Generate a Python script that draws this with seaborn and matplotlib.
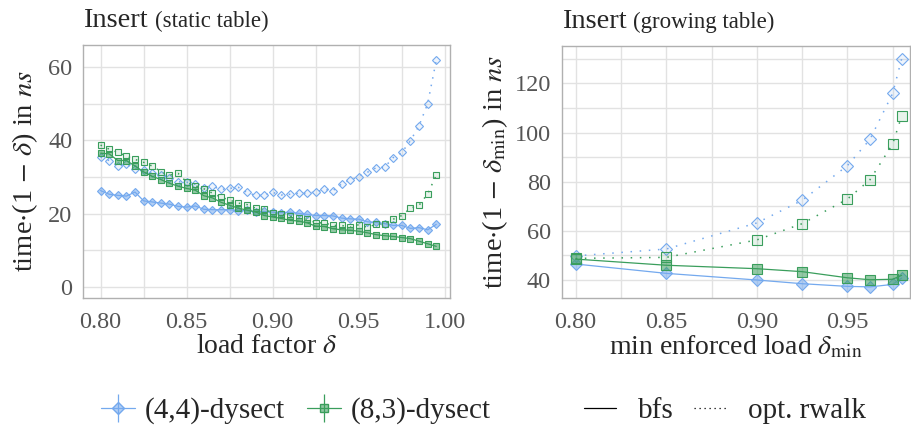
import numpy as np
import pandas as pd
import matplotlib
matplotlib.use("Agg")
import matplotlib.pyplot as plt
from matplotlib.lines import Line2D
from matplotlib.legend_handler import HandlerTuple
import seaborn as sns

# ---------------- data ----------------
load_static = [0.800, 0.805, 0.810, 0.815, 0.820, 0.825, 0.830, 0.835, 0.840, 0.845,
               0.850, 0.855, 0.860, 0.865, 0.870, 0.875, 0.880, 0.885, 0.890, 0.895,
               0.900, 0.905, 0.910, 0.915, 0.920, 0.925, 0.930, 0.935, 0.940, 0.945,
               0.950, 0.955, 0.960, 0.965, 0.970, 0.975, 0.980, 0.985, 0.990, 0.995]

s44_bfs = [26.3, 25.3, 25.0, 24.8, 25.9, 23.5, 23.2, 22.9, 22.6, 22.0,
           21.8, 22.1, 21.2, 21.1, 21.1, 21.1, 20.8, 20.9, 20.4, 20.6,
           20.4, 20.3, 20.4, 20.1, 19.8, 19.5, 19.5, 19.4, 18.8, 18.6,
           18.5, 17.8, 17.6, 17.3, 16.8, 16.8, 16.0, 16.2, 15.6, 17.1]
s44_rw = [35.4, 34.5, 33.0, 33.5, 32.3, 31.9, 31.0, 30.6, 29.6, 28.7,
          28.6, 28.0, 27.0, 27.5, 26.6, 26.9, 27.2, 25.8, 25.0, 25.0,
          25.8, 25.1, 25.3, 25.6, 25.6, 25.9, 26.6, 26.3, 28.1, 29.2,
          30.1, 31.3, 32.5, 32.7, 35.3, 36.7, 39.9, 44.0, 50.0, 61.8]
s83_bfs = [36.5, 36.3, 34.5, 34.5, 33.0, 31.4, 30.2, 29.3, 28.3, 27.5,
           26.9, 26.4, 24.9, 24.3, 23.1, 22.3, 21.5, 21.0, 20.5, 19.5,
           19.1, 18.7, 18.2, 18.0, 17.5, 16.6, 16.5, 15.9, 15.6, 15.5,
           15.2, 14.8, 14.3, 14.0, 13.8, 13.5, 13.2, 12.5, 11.8, 11.1]
s83_rw = [38.7, 37.6, 36.7, 35.7, 34.8, 34.0, 33.0, 31.5, 30.5, 31.0,
          28.6, 27.6, 26.8, 25.6, 24.5, 23.7, 22.9, 22.5, 21.5, 21.2,
          20.3, 19.9, 19.3, 18.7, 18.5, 17.5, 17.5, 16.8, 16.8, 16.3,
          17.0, 16.3, 17.1, 17.2, 18.5, 19.5, 21.5, 22.3, 25.4, 30.5]

load_grow = [0.80, 0.85, 0.90, 0.925, 0.95, 0.9625, 0.975, 0.98]
g44_bfs = [46.5, 42.7, 40.0, 38.5, 37.4, 37.2, 38.2, 40.8]
g44_rw = [49.8, 52.6, 63.2, 72.4, 86.5, 97.2, 115.9, 130.0]
g83_bfs = [48.5, 46.0, 44.6, 43.4, 40.9, 40.1, 40.3, 41.9]
g83_rw = [48.8, 49.2, 56.3, 62.9, 72.9, 80.8, 95.3, 106.7]

variants = ["(4,4)-dysect", "(8,3)-dysect"]
algos = ["bfs", "opt. rwalk"]

# ---------------- style ----------------
sns.set_theme(style="whitegrid")
plt.rcParams["font.family"] = ["Liberation Serif", "DejaVu Serif"]
plt.rcParams["mathtext.fontset"] = "stix"

BLUE = "#74a9ee"
GREEN = "#3a9e5c"
colors = {variants[0]: BLUE, variants[1]: GREEN}
markers = {variants[0]: "D", variants[1]: "s"}
TICKC = "#555555"
GRIDC = "#e2e2e2"
SPINEC = "#b0b0b0"

fig = plt.figure(figsize=(9.11, 4.30), dpi=100)
ax1 = fig.add_axes([0.0915, 0.3077, 0.4025, 0.5877])
ax2 = fig.add_axes([0.617, 0.3077, 0.3817, 0.5853])


def draw(ax, x, series, msize, lw, dots):
    for (variant, algo), y in series.items():
        df = pd.DataFrame({"x": x, "y": y})
        c = colors[variant]
        if algo == "bfs":
            sns.lineplot(data=df, x="x", y="y", ax=ax, color=c, lw=lw,
                         marker=markers[variant], markersize=msize,
                         markerfacecolor=matplotlib.colors.to_rgba(c, 0.55),
                         markeredgecolor=c, markeredgewidth=0.8)
        else:
            sns.lineplot(data=df, x="x", y="y", ax=ax, color=c, lw=lw + 0.2,
                         marker=markers[variant], markersize=msize,
                         markerfacecolor=matplotlib.colors.to_rgba(c, 0.12),
                         markeredgecolor=c, markeredgewidth=0.8,
                         linestyle=(0, dots))


draw(ax1, load_static,
     {(variants[0], "bfs"): s44_bfs, (variants[0], "opt. rwalk"): s44_rw,
      (variants[1], "bfs"): s83_bfs, (variants[1], "opt. rwalk"): s83_rw},
     msize=4.2, lw=0.9, dots=(1, 4))
draw(ax2, load_grow,
     {(variants[0], "bfs"): g44_bfs, (variants[0], "opt. rwalk"): g44_rw,
      (variants[1], "bfs"): g83_bfs, (variants[1], "opt. rwalk"): g83_rw},
     msize=6.5, lw=0.9, dots=(1, 5))

ax1.set_xlim(0.790, 1.003)
ax1.set_ylim(-2.9, 66.0)
ax1.set_xticks([0.80, 0.85, 0.90, 0.95, 1.00])
ax1.set_xticks([0.825, 0.875, 0.925, 0.975], minor=True)
ax1.set_yticks([0, 20, 40, 60])
ax1.set_yticks([10, 30, 50], minor=True)

ax2.set_xlim(0.7925, 0.9845)
ax2.set_ylim(32.8, 135.2)
ax2.set_xticks([0.80, 0.85, 0.90, 0.95])
ax2.set_xticks([0.825, 0.875, 0.925, 0.975], minor=True)
ax2.set_yticks([40, 60, 80, 100, 120])
ax2.set_yticks([50, 70, 90, 110, 130], minor=True)

for ax in (ax1, ax2):
    ax.grid(True, which="major", color=GRIDC, lw=1.0)
    ax.grid(True, which="minor", color=GRIDC, lw=1.0)
    ax.set_axisbelow(True)
    for sp in ax.spines.values():
        sp.set_color(SPINEC)
        sp.set_linewidth(1.0)
    ax.tick_params(axis="both", which="major", length=4, width=0.8, color=SPINEC,
                   labelsize=17.5, labelcolor=TICKC)
    ax.tick_params(axis="x", which="major", pad=6)
    ax.tick_params(axis="y", which="major", pad=4)
    ax.tick_params(axis="both", which="minor", length=0)
    ax.xaxis.set_major_formatter(matplotlib.ticker.FormatStrFormatter("%.2f"))

ax1.set_xlabel(r"load factor $\delta$", fontsize=20, labelpad=1)
ax1.set_ylabel(r"time$\cdot$(1 $-$ $\delta$) in $ns$", fontsize=20.5, labelpad=6)
ax2.set_xlabel(r"min enforced load $\delta_{\mathrm{min}}$", fontsize=20, labelpad=1)
ax2.set_ylabel(r"time$\cdot$(1 $-$ $\delta_{\mathrm{min}}$) in $ns$", fontsize=20.5, labelpad=3)

# titles
fig.canvas.draw()
for ax, sub in ((ax1, "(static table)"), (ax2, "(growing table)")):
    t = ax.text(0.0, 1.071, "Insert", transform=ax.transAxes, fontsize=20.5,
                ha="left", va="baseline")
    bb = t.get_window_extent(renderer=fig.canvas.get_renderer())
    inv = ax.transAxes.inverted()
    x_end = inv.transform((bb.x1, bb.y0))[0]
    ax.text(x_end + 0.018, 1.071, sub, transform=ax.transAxes, fontsize=16.5,
            ha="left", va="baseline")

# legends
h_var = []
for v in variants:
    c = colors[v]
    h1 = Line2D([], [], color=c, lw=0.9, marker=markers[v], markersize=6,
                markerfacecolor=matplotlib.colors.to_rgba(c, 0.55), markeredgecolor=c)
    h2 = Line2D([], [], color=c, lw=0, marker="|", markersize=20, markeredgewidth=0.9)
    h_var.append((h1, h2))
leg1 = fig.legend(h_var, variants, loc="center", bbox_to_anchor=(0.325, 0.045), ncol=2,
                  frameon=False, fontsize=21, handlelength=1.15, columnspacing=0.75,
                  handletextpad=0.35,
                  handler_map={tuple: HandlerTuple(ndivide=1)})
h_alg = [Line2D([], [], color="black", lw=0.9),
         Line2D([], [], color="black", lw=0.9, linestyle=(0, (1, 3)))]
leg2 = fig.legend(h_alg, algos, loc="center", bbox_to_anchor=(0.796, 0.045), ncol=2,
                  frameon=False, fontsize=21, handlelength=1.1, columnspacing=0.7,
                  handletextpad=0.75)

fig.savefig("out.png", dpi=100)
